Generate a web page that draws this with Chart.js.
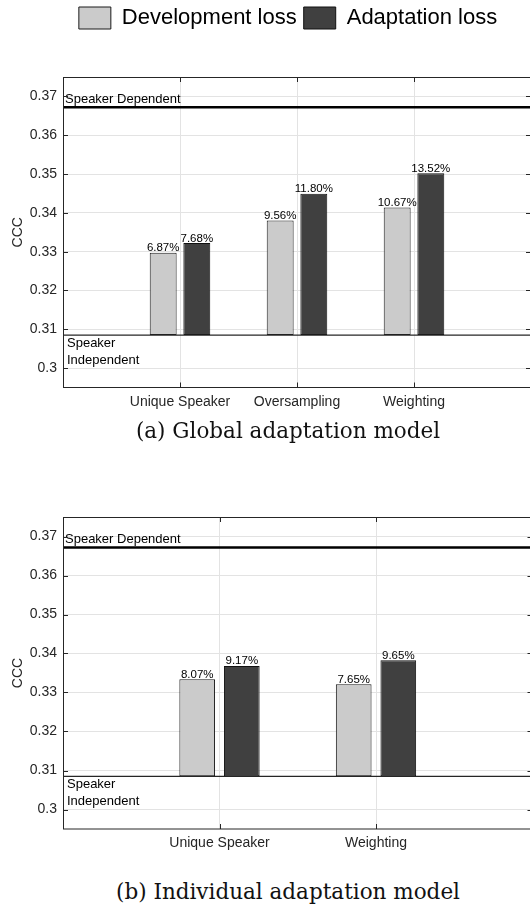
<!DOCTYPE html>
<html>
<head>
<meta charset="utf-8">
<script src="https://cdn.jsdelivr.net/npm/chart.js@4.4.1/dist/chart.umd.min.js"></script>
<style>
    html, body { margin: 0; padding: 0; background: #fff; overflow: hidden; width: 530px; height: 911px; }
    .box { position: absolute; left: 0; width: 576px; }
    .caption { position: absolute; left: 0; width: 576px; text-align: center; font-family: "DejaVu Serif", serif; font-size: 21.5px; line-height: 26px; color: #111; }
</style>
</head>
<body>
<div class="box" style="top:0; height:420px;"><canvas id="globalChart"></canvas></div>
<div class="caption" style="top:418px;">(a) Global adaptation model</div>
<div class="box" style="top:470px; height:380px;"><canvas id="individualChart"></canvas></div>
<div class="caption" style="top:879px;">(b) Individual adaptation model</div>
<script>
// (a) global adaptation model
const globalCategories = ["", "Unique Speaker", "Oversampling", "Weighting", ""];
const globalDevCCC = [null, 0.3297, 0.3380, 0.3414, null];
const globalAdaptCCC = [null, 0.3322, 0.3449, 0.3502, null];
const globalDevGain = ["", "6.87%", "9.56%", "10.67%", ""];
const globalAdaptGain = ["", "7.68%", "11.80%", "13.52%", ""];

// (b) individual adaptation model
const individualCategories = ["", "Unique Speaker", "Weighting", ""];
const individualDevCCC = [null, 0.3334, 0.3321, null];
const individualAdaptCCC = [null, 0.3368, 0.3383, null];
const individualDevGain = ["", "8.07%", "7.65%", ""];
const individualAdaptGain = ["", "9.17%", "9.65%", ""];

// reference levels + shared y ticks
const speakerDependentCCC = 0.3672;
const speakerIndependentCCC = 0.3085;
const yTickValues = [0.30, 0.31, 0.32, 0.33, 0.34, 0.35, 0.36, 0.37];

const FONT = "'Liberation Sans', Arial, sans-serif";
const AXIS = "#262626";
const GRID = "#e3e3e3";

// bars start from the speaker independent level
const floating = vals => vals.map(v => v === null ? null : [speakerIndependentCCC, v]);

// matlab-ish box, inward ticks, baseline lines and the % labels
const framePlugin = {
    id: "frame",
    afterDatasetsDraw(chart, args, opts) {
        const { ctx, chartArea: a, scales: { x, y } } = chart;
        ctx.save();

        const yDep = y.getPixelForValue(speakerDependentCCC);
        const yInd = y.getPixelForValue(speakerIndependentCCC);
        ctx.strokeStyle = "#000";
        ctx.lineWidth = 2.5;
        ctx.beginPath(); ctx.moveTo(a.left, yDep); ctx.lineTo(a.right, yDep); ctx.stroke();
        ctx.strokeStyle = AXIS;
        ctx.lineWidth = 1.2;
        ctx.beginPath(); ctx.moveTo(a.left, yInd); ctx.lineTo(a.right, yInd); ctx.stroke();

        ctx.fillStyle = "#000";
        ctx.font = "13px " + FONT;
        ctx.textAlign = "left";
        ctx.textBaseline = "alphabetic";
        ctx.fillText("Speaker Dependent", a.left + 2, yDep - 4.5);
        ctx.fillText("Speaker", a.left + 4, yInd + 12);
        ctx.fillText("Independent", a.left + 4, yInd + 28.5);

        ctx.font = "11.5px " + FONT;
        ctx.textAlign = "center";
        opts.gains.forEach((gain, di) => {
            chart.getDatasetMeta(di).data.forEach((bar, i) => {
                if (gain[i]) ctx.fillText(gain[i], bar.x, bar.y - 1.5);
            });
        });

        ctx.strokeStyle = AXIS;
        ctx.lineWidth = 1;
        ctx.strokeRect(a.left + 0.5, a.top + 0.5, a.width, a.height - 0.5);
        ctx.beginPath();
        y.ticks.forEach(t => {
            const p = Math.round(y.getPixelForValue(t.value)) + 0.5;
            ctx.moveTo(a.left, p); ctx.lineTo(a.left + 5, p);
            ctx.moveTo(a.right, p); ctx.lineTo(a.right - 5, p);
        });
        x.ticks.forEach((t, i) => {
            const p = Math.round(x.getPixelForTick(i)) + 0.5;
            ctx.moveTo(p, a.bottom); ctx.lineTo(p, a.bottom - 5);
            ctx.moveTo(p, a.top); ctx.lineTo(p, a.top + 5);
        });
        ctx.stroke();
        ctx.restore();
    }
};

function buildChart(canvasId, cfg) {
    const ctx = document.getElementById(canvasId).getContext("2d");
    return new Chart(ctx, {
        type: "bar",
        data: {
            labels: cfg.categories,
            datasets: [{
                label: "Development loss",
                data: floating(cfg.dev),
                backgroundColor: "#cbcbcb",
                borderColor: "#1a1a1a",
                borderWidth: 1,
                borderSkipped: false,
                categoryPercentage: cfg.catPct,
                barPercentage: 0.8
            }, {
                label: "Adaptation loss",
                data: floating(cfg.adapt),
                backgroundColor: "#404040",
                borderColor: "#111",
                borderWidth: 1,
                borderSkipped: false,
                categoryPercentage: cfg.catPct,
                barPercentage: 0.8
            }]
        },
        options: {
            responsive: true,
            maintainAspectRatio: false,
            animation: false,
            layout: { padding: cfg.padding },
            scales: {
                x: {
                    offset: false,
                    grid: { color: GRID, drawTicks: false, offset: false },
                    border: { display: false },
                    ticks: { color: AXIS, padding: 6, maxRotation: 0, autoSkip: false, font: { family: FONT, size: 14 } },
                    afterFit: s => { s.height = cfg.xHeight; }
                },
                y: {
                    min: 0.295,
                    max: 0.375,
                    grid: { color: GRID, drawTicks: false },
                    border: { display: false },
                    afterBuildTicks: s => { s.ticks = yTickValues.map(v => ({ value: v })); },
                    ticks: {
                        padding: 6,
                        color: AXIS,
                        font: { family: FONT, size: 14 },
                        callback: v => String(+v.toFixed(2))
                    },
                    title: { display: true, text: "CCC", color: AXIS, padding: { top: 10, bottom: 0 }, font: { family: FONT, size: 14 } },
                    afterFit: s => { s.width = 63; }
                },
                ...(cfg.rightBox ? {
                    y2: {
                        position: "right",
                        grid: { display: false },
                        border: { display: false },
                        ticks: { display: false },
                        afterFit: s => { s.width = cfg.rightBox; }
                    }
                } : {})
            },
            plugins: {
                legend: {
                    display: cfg.legend,
                    labels: { boxWidth: 32, boxHeight: 22, padding: 7, color: "#000", font: { family: FONT, size: 22 } }
                },
                // empty spacer between legend and plot
                title: { display: cfg.legend, text: "", weight: 500, padding: { top: 0, bottom: cfg.spacer }, font: { size: 10 } },
                tooltip: { enabled: false },
                frame: { gains: cfg.gains }
            }
        },
        plugins: [framePlugin]
    });
}

buildChart("globalChart", {
    categories: globalCategories,
    dev: globalDevCCC,
    adapt: globalAdaptCCC,
    gains: [globalDevGain, globalAdaptGain],
    catPct: 0.575,
    padding: { top: 0, left: 0, right: 0, bottom: 0 },
    rightBox: 45,
    legend: true,
    spacer: 26,
    xHeight: 32.5
});

buildChart("individualChart", {
    categories: individualCategories,
    dev: individualDevCCC,
    adapt: individualAdaptCCC,
    gains: [individualDevGain, individualAdaptGain],
    catPct: 0.57,
    padding: { top: 47, left: 0, right: 43.5, bottom: 0 },
    rightBox: 0,
    legend: false,
    spacer: 0,
    xHeight: 21
});
</script>
</body>
</html>
